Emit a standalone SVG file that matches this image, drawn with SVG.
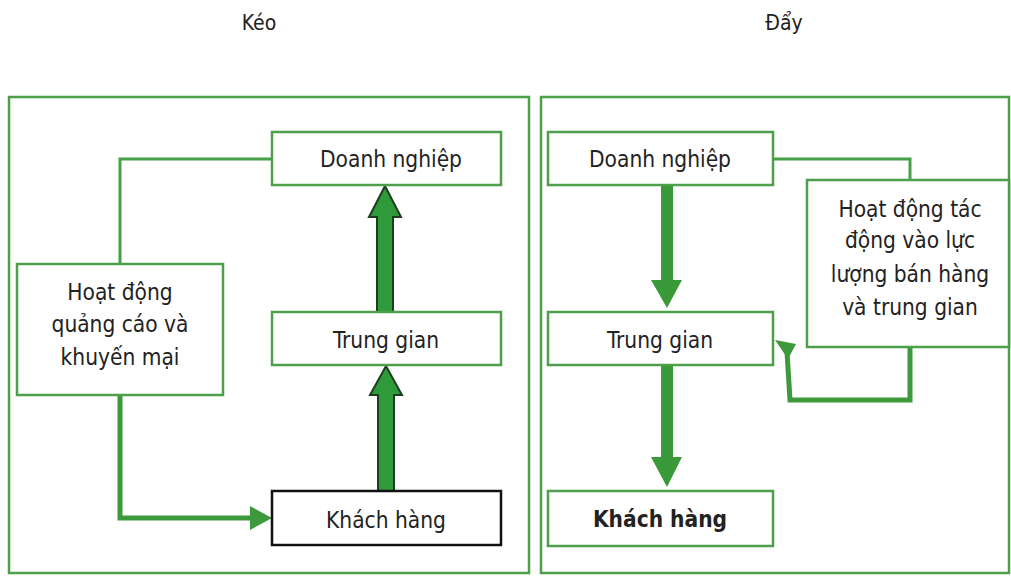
<svg xmlns="http://www.w3.org/2000/svg" width="1011" height="577" viewBox="0 0 1011 577">
<style>
.panel{fill:none;stroke:#4e9f4a;stroke-width:2.5}
.box{fill:#fff;stroke:#4e9f4a;stroke-width:2.5}
.kbox{fill:#fff;stroke:#111;stroke-width:2.5}
.t{font-family:"DejaVu Sans Condensed","DejaVu Sans",sans-serif;font-stretch:condensed;font-size:22.5px;fill:#222;text-anchor:middle}
.title{font-family:"DejaVu Sans Condensed","DejaVu Sans",sans-serif;font-stretch:condensed;font-size:21px;fill:#222;text-anchor:middle}
.thin{fill:none;stroke:#46a046;stroke-width:3}
.thick{fill:none;stroke:#3c9a3c;stroke-width:5}
.barrow{fill:#2f9a39;stroke:#1e3d1e;stroke-width:2;stroke-linejoin:miter}
.garrow{fill:#3a9a3a}
</style>
<text class="title" x="259" y="30">Kéo</text>
<text class="title" x="784" y="30">Đẩy</text>
<rect class="panel" x="9" y="97" width="520" height="476"/>
<rect class="panel" x="541" y="97" width="468" height="476"/>
<g id="connectors">
<polyline class="thin" points="272,159 120,159 120,264"/>
<polyline class="thick" points="120,395 120,518 252,518"/>
<polygon fill="#3c9a3c" points="250,506 272,518 250,530"/>
<polygon class="barrow" points="377,312 377,217 369,217 385,186 401,217 393,217 393,312"/>
<polygon class="barrow" points="378,491 378,395 370,395 386,366 402,395 394,395 394,491"/>
<polyline class="thin" points="773,159 910,159 910,180"/>
<polyline class="thick" points="910,347 910,400 790,400 787,352"/>
<polygon fill="#3c9a3c" points="775,340 796,344 788,359"/>
<polygon class="garrow" points="661,185 673,185 673,280 682,280 667,308 651,280 661,280"/>
<polygon class="garrow" points="661,365 673,365 673,457 682,457 667,487 651,457 661,457"/>
</g>
<g id="l-doanh"><rect class="box" x="272" y="132" width="229" height="53"/><text class="t" x="391" y="167">Doanh nghiệp</text></g>
<g id="l-trung"><rect class="box" x="272" y="312" width="229" height="53"/><text class="t" x="386" y="348">Trung gian</text></g>
<g id="l-khach"><rect class="kbox" x="272" y="491" width="229" height="54"/><text class="t" x="386" y="528">Khách hàng</text></g>
<g id="l-hoat"><rect class="box" x="17" y="264" width="206" height="131"/><text class="t" x="120" y="300">Hoạt động</text><text class="t" x="120" y="332">quảng cáo và</text><text class="t" x="120" y="365">khuyến mại</text></g>
<g id="r-doanh"><rect class="box" x="548" y="132" width="225" height="53"/><text class="t" x="660" y="167">Doanh nghiệp</text></g>
<g id="r-trung"><rect class="box" x="548" y="312" width="225" height="53"/><text class="t" x="660" y="348">Trung gian</text></g>
<g id="r-khach"><rect class="box" x="548" y="491" width="225" height="55"/><text class="t" x="660" y="527" font-weight="bold">Khách hàng</text></g>
<g id="r-hoat"><rect class="box" x="807" y="180" width="202" height="167"/><text class="t" x="910" y="217">Hoạt động tác</text><text class="t" x="910" y="248">động vào lực</text><text class="t" x="910" y="282">lượng bán hàng</text><text class="t" x="910" y="315">và trung gian</text></g>
</svg>
